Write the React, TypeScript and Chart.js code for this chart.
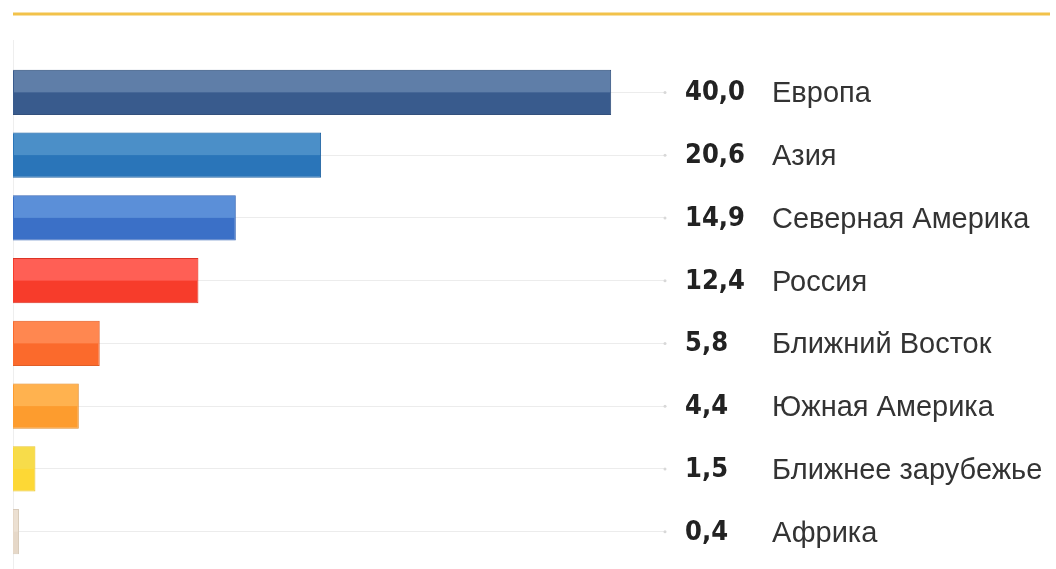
import React, { useEffect, useRef } from "react";
import { Chart, registerables } from "chart.js";

Chart.register(...registerables);

const regions = [
  "Европа",
  "Азия",
  "Северная Америка",
  "Россия",
  "Ближний Восток",
  "Южная Америка",
  "Ближнее зарубежье",
  "Африка",
];
const shares = [40.0, 20.6, 14.9, 12.4, 5.8, 4.4, 1.5, 0.4];
const valueLabels = ["40,0", "20,6", "14,9", "12,4", "5,8", "4,4", "1,5", "0,4"];
const darkColors = ["#395b8d", "#2a75b9", "#3b70c7", "#f73c2b", "#fb6a2c", "#fd9c2e", "#fdd835", "#e6d8c8"];
const lightColors = ["#5f7ea8", "#4b8fc8", "#5b8fd8", "#ff5f55", "#ff8750", "#ffb24f", "#f7dc4a", "#ece0d2"];
const borderColors = ["#33507c", "#2668a5", "#3463b3", "#dc3426", "#e05e27", "#e08a29", "#e8c52f", "#d8cab9"];

const decorPlugin = {
  id: "decor",
  beforeDatasetsDraw(chart: any) {
    const { ctx, chartArea } = chart;
    ctx.save();
    ctx.strokeStyle = "#eeeeee";
    ctx.lineWidth = 1;
    ctx.beginPath();
    ctx.moveTo(chartArea.left + 0.5, 40);
    ctx.lineTo(chartArea.left + 0.5, chart.height);
    ctx.stroke();
    ctx.restore();
  },
  afterDatasetsDraw(chart: any) {
    const { ctx, chartArea } = chart;
    const meta = chart.getDatasetMeta(0);
    const yScale = chart.scales.y;
    ctx.save();
    meta.data.forEach((bar: any, i: number) => {
      const { x, y, base, height } = bar.getProps(["x", "y", "base", "height"], true);
      const top = y - height / 2;
      ctx.fillStyle = lightColors[i];
      ctx.fillRect(base + 1, top + 1, Math.max(0, x - base - 2), height / 2 - 1);
    });
    // top yellow rule
    ctx.strokeStyle = "#f2c24a";
    ctx.lineWidth = 3;
    ctx.beginPath();
    ctx.moveTo(chartArea.left, 14);
    ctx.lineTo(1050, 14);
    ctx.stroke();
    // labels
    ctx.textBaseline = "middle";
    regions.forEach((name, i) => {
      const yy = yScale.getPixelForValue(i);
      ctx.fillStyle = "#d8d8d8";
      ctx.beginPath();
      ctx.arc(chartArea.right, yy, 1.5, 0, Math.PI * 2);
      ctx.fill();
      ctx.fillStyle = "#222222";
      ctx.font = "bold 27px 'DejaVu Sans Condensed', 'DejaVu Sans'";
      ctx.textAlign = "left";
      ctx.fillText(valueLabels[i], 685, yy + 1);
      ctx.fillStyle = "#333333";
      ctx.font = "29px 'Liberation Sans', Arial";
      ctx.fillText(name, 772, yy + 2);
    });
    ctx.restore();
  },
};

export default function App() {
  const ref = useRef<HTMLCanvasElement>(null);
  useEffect(() => {
    document.body.style.margin = "0";
    const chart = new Chart(ref.current!, {
      type: "bar",
      data: {
        labels: regions,
        datasets: [
          {
            data: shares,
            backgroundColor: darkColors,
            borderColor: borderColors,
            borderWidth: 1,
            categoryPercentage: 1,
            barPercentage: 0.72,
          },
        ],
      },
      options: {
        indexAxis: "y",
        animation: false,
        responsive: false,
        maintainAspectRatio: false,
        layout: { padding: { left: 13, right: 391, top: 61, bottom: 6 } },
        plugins: { legend: { display: false }, tooltip: { enabled: false } },
        scales: {
          x: { display: false, min: 0, max: 43.6 },
          y: {
            display: true,
            ticks: { display: false },
            border: { display: false },
            grid: { offset: false, color: "#ececec", lineWidth: 1, drawTicks: false },
          },
        },
      },
      plugins: [decorPlugin],
    });
    return () => chart.destroy();
  }, []);
  return (
    <div style={{ position: "absolute", left: 0, top: 0, width: 1056, height: 569, background: "#fff" }}>
      <canvas ref={ref} width={1056} height={569} />
    </div>
  );
}
